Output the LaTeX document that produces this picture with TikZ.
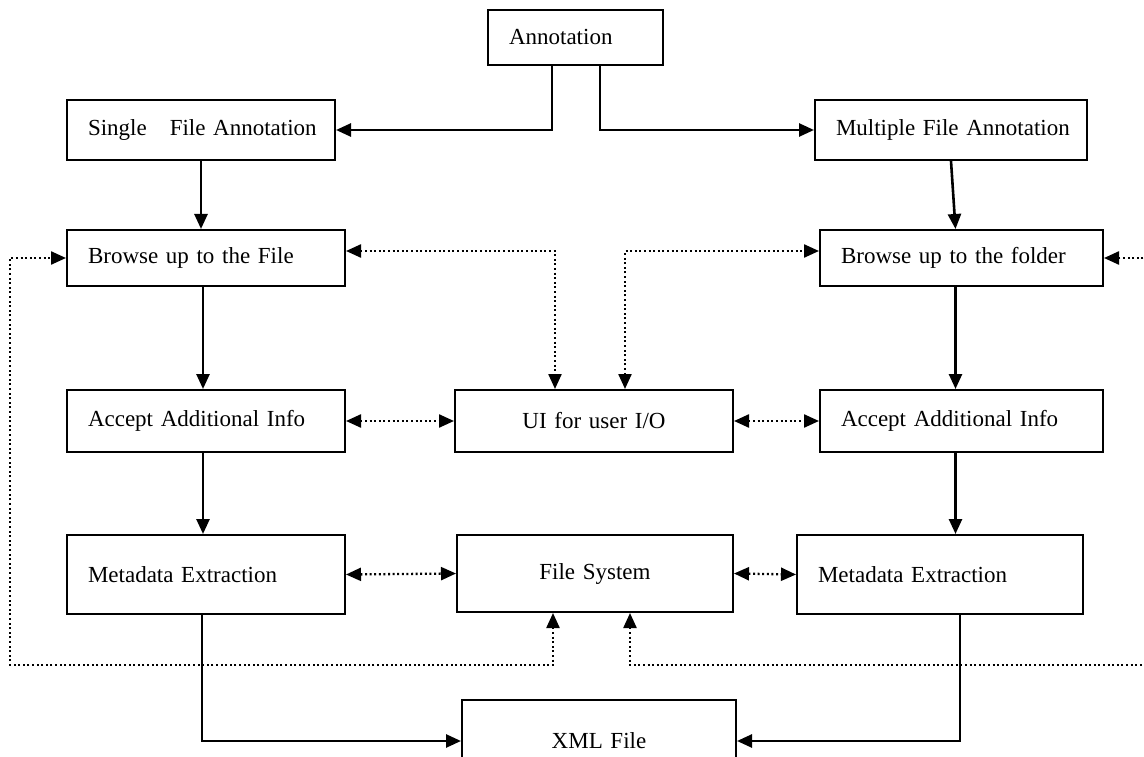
\documentclass[tikz,border=0pt]{standalone}
\usepackage{fontspec}
\setmainfont{Liberation Serif}
\usetikzlibrary{arrows.meta}
\begin{document}
\begin{tikzpicture}[x=1pt, y=-1pt,
  every node/.style={font=\fontsize{23}{27.6}\selectfont},
  box/.style={draw, line width=2pt, inner xsep=21pt, inner ysep=0pt, align=left},
  cbox/.style={draw, line width=2pt, inner xsep=0pt, inner ysep=0pt, align=center},
  flow/.style={line width=2.6pt, -{Triangle[length=15pt,width=13pt]}},
  io/.style={line width=2.3pt, dash pattern=on 2pt off 2.6pt, {Triangle[length=15pt,width=13pt]}-{Triangle[length=15pt,width=13pt]}}]
\clip (0,0) rectangle (1144,757);
\node[box, text width=133pt, minimum height=55pt] (P_0_0) at (575.5,37.5) {Annotation};
\node[box, text width=226pt, minimum height=60pt] (P_-1_1) at (201,130) {\mbox{Single\ \ \ File Annotation}};
\draw[flow] ([xshift=-23.5pt]P_0_0.south) |- (P_-1_1.east);
\node[box, text width=230pt, minimum height=60pt] (P_1_1) at (951,130) {\mbox{Multiple File Annotation}};
\draw[flow] ([xshift=24.5pt]P_0_0.south) |- (P_1_1.west);
\node[box, text width=236pt, minimum height=56pt] (P_-1_2) at (206,258) {Browse up to the File};
\draw[flow] (P_-1_1.south) -- (P_-1_1.south |- P_-1_2.north);
\node[box, text width=241pt, minimum height=56pt] (P_1_2) at (961.5,258) {Browse up to the folder};
\draw[flow] (P_1_1.south) -- ([xshift=-6pt]P_1_2.north);
\node[box, text width=236pt, minimum height=62pt] (P_-1_3) at (206,421) {Accept Additional Info};
\draw[flow] ([xshift=-3pt]P_-1_2.south) -- ([xshift=-3pt]P_-1_3.north);
\node[cbox, text width=278pt, minimum height=62pt] (P_0_3) at (594,421) {UI for user I/O};
\draw[io] (P_-1_3.east) -- (P_0_3.west);
\draw[io] ([yshift=7pt]P_-1_2.east) -| ([xshift=-39pt]P_0_3.north);
\node[box, text width=241pt, minimum height=62pt] (P_1_3) at (961.5,421) {Accept Additional Info};
\draw[flow] ([xshift=-6pt]P_1_2.south) -- ([xshift=-6pt]P_1_3.north);
\draw[io] (P_0_3.east) -- (P_1_3.west);
\draw[io] ([xshift=31pt]P_0_3.north) |- ([yshift=7pt]P_1_2.west);
\node[box, text width=236pt, minimum height=79pt] (P_-1_4) at (206,574.5) {Metadata Extraction};
\draw[flow] ([xshift=-3pt]P_-1_3.south) -- ([xshift=-3pt]P_-1_4.north);
\node[cbox, text width=276pt, minimum height=77pt] (P_0_4) at (595,573.5) {File System};
\draw[io] (P_-1_4.east) -- (P_0_4.west);
\node[box, text width=244pt, minimum height=79pt] (P_1_4) at (940,574.5) {Metadata Extraction};
\draw[flow] ([xshift=-6pt]P_1_3.south) -- ([xshift=-6pt]P_1_3.south |- P_1_4.north);
\draw[io] (P_0_4.east) -- (P_1_4.west);
\coordinate (L_loop) at (10,665);
\draw[io] ([xshift=-42pt]P_0_4.south) |- (L_loop) |- (P_-1_2.west);
\coordinate (R_loop) at (1152,665);
\draw[io] ([xshift=35pt]P_0_4.south) |- (R_loop) |- (P_1_2.east);
\node[cbox, text width=274pt, minimum height=82pt] (P_0_5) at (599,741) {XML File};
\draw[flow] ([xshift=-4pt]P_-1_4.south) |- (P_0_5.west);
\draw[flow] ([xshift=20pt]P_1_4.south) |- (P_0_5.east);
\end{tikzpicture}
\end{document}
